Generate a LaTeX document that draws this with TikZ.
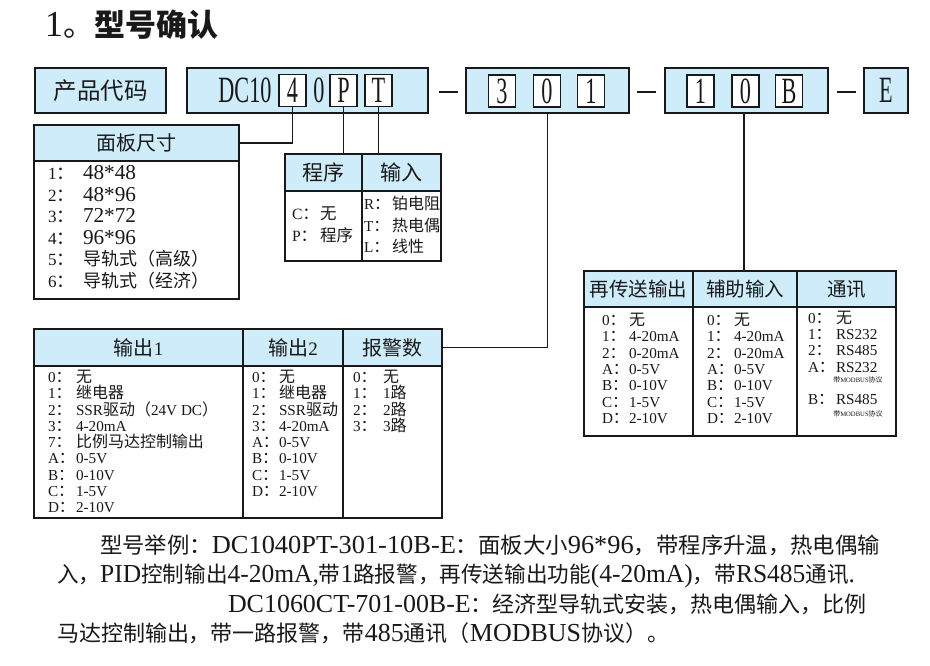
\documentclass[tikz,border=0pt]{standalone}
\usepackage{fontspec}
\usepackage{graphicx}
\setmainfont{Noto Sans CJK SC}
\newfontfamily\latf{Liberation Serif}[Scale=0.95]
\newfontfamily\latb{Liberation Serif}[Scale=1.18]
\definecolor{hdr}{RGB}{206,236,250}
\definecolor{ink}{RGB}{25,25,25}
\newcommand\fz[1]{\fontsize{#1}{#1}\selectfont}
\newcommand\cond[1]{\scalebox{0.6}[1]{\fz{39}\latf #1}}
\begin{document}
\begin{tikzpicture}[x=1pt,y=-1pt,
  every node/.style={inner sep=0pt,outer sep=0pt,text=ink},
  topbox/.style={draw=ink,line width=1.8pt,fill=hdr,minimum height=45pt},
  digbox/.style={draw=ink,line width=1.4pt,fill=white,minimum width=27pt,minimum height=32pt},
  hcell/.style={draw=ink,line width=1.8pt,fill=hdr},
  bcell/.style={draw=ink,line width=1.8pt,fill=white},
  wire/.style={draw=ink,line width=1.4pt},
  key/.style={anchor=base west},
  dashmark/.style={fill=ink,minimum width=19pt,minimum height=1.5pt},
]
\useasboundingbox[fill=white] (0,0) rectangle (930,666);

% title
\node[key] (title) at (45,37) {{\fz{31}\latb 1}{\fz{31}。\bfseries 型号确认}};

% top row
\node[topbox,minimum width=131pt,font=\fz{23.5}] (code) at (100.5,90.5) {产品代码};
\node[topbox,minimum width=241pt] (dc) at (307.5,90.5) {};
\node (dctxt) at (245,90.5) {\cond{DC10}};
\node[digbox] (d4) at (292.5,90.5) {\cond{4}};
\node (d0) at (319,90.5) {\cond{0}};
\node[digbox] (dP) at (343.5,90.5) {\cond{P}};
\node[digbox] (dT) at (378.5,90.5) {\cond{T}};
\node[dashmark] (m1) at (448,92) {};
\node[topbox,minimum width=163pt] (b301) at (547.5,90.5) {};
\node[digbox] (d3) at (502,91) {\cond{3}};
\node[digbox] (d0b) at (547,91) {\cond{0}};
\node[digbox] (d1) at (591,91) {\cond{1}};
\node[dashmark] (m2) at (646.5,92) {};
\node[topbox,minimum width=163pt] (b10B) at (746.5,90.5) {};
\node[digbox] (e1) at (700.5,91) {\cond{1}};
\node[digbox] (e0) at (745.5,91) {\cond{0}};
\node[digbox] (eB) at (789,91) {\cond{B}};
\node[dashmark] (m3) at (846.5,92) {};
\node[topbox,minimum width=44pt] (bE) at (886,90.5) {\cond{E}};

% panel size table
\node[hcell,minimum width=205pt,minimum height=36pt,font=\fz{20}] (panelH) at (136.5,143) {面板尺寸};
\node[bcell,minimum width=205pt,minimum height=138pt] (panelB) at (136.5,230) {};
\foreach \k/\t [count=\i from 0] in {1/{\latb 48*48},2/{\latb 48*96},3/{\latb 72*72},4/{\latb 96*96},5/{导轨式（高级）},6/{导轨式（经济）}}{
  \node[key,font=\fz{18}] (pk\i) at (48,{179.5+21.6*\i}) {{\latf\k}：};
  \node[key,font=\fz{18}] (pt\i) at (83,{179.5+21.6*\i}) {\t};
}

% program / input table
\node[hcell,minimum width=77pt,minimum height=37pt,font=\fz{21}] (progH) at (323.5,172.5) {程序};
\node[hcell,minimum width=79pt,minimum height=37pt,font=\fz{21}] (inH) at (401.5,172.5) {输入};
\node[bcell,minimum width=77pt,minimum height=70pt] (progB) at (323.5,226) {};
\node[bcell,minimum width=79pt,minimum height=70pt] (inB) at (401.5,226) {};
\foreach \k/\t [count=\i from 0] in {C/无,P/程序}{
  \node[key,font=\fz{16.5}] (gk\i) at (292,{220+21*\i}) {{\latf\k}：};
  \node[key,font=\fz{16.5}] (gt\i) at (320,{220+21*\i}) {\t};
}
\foreach \k/\t [count=\i from 0] in {R/铂电阻,T/热电偶,L/线性}{
  \node[key,font=\fz{16}] (ik\i) at (364,{210+21.5*\i}) {{\latf\k}：};
  \node[key,font=\fz{16}] (it\i) at (392,{210+21.5*\i}) {\t};
}

% retransmission / aux input / comm table
\node[hcell,minimum width=109pt,minimum height=36pt,font=\fz{19.5}] (retH) at (638.5,289) {再传送输出};
\node[hcell,minimum width=104pt,minimum height=36pt,font=\fz{19.5}] (auxH) at (745,289) {辅助输入};
\node[hcell,minimum width=99pt,minimum height=36pt,font=\fz{19.5}] (comH) at (846.5,289) {通讯};
\node[bcell,minimum width=109pt,minimum height=129pt] (retB) at (638.5,371.5) {};
\node[bcell,minimum width=104pt,minimum height=129pt] (auxB) at (745,371.5) {};
\node[bcell,minimum width=99pt,minimum height=129pt] (comB) at (846.5,371.5) {};
\foreach \k/\t [count=\i from 0] in {0/无,1/{\latf 4-20mA},2/{\latf 0-20mA},A/{\latf 0-5V},B/{\latf 0-10V},C/{\latf 1-5V},D/{\latf 2-10V}}{
  \node[key,font=\fz{16}] (rk\i) at (602,{325.5+16.3*\i}) {{\latf\k}：};
  \node[key,font=\fz{16}] (rt\i) at (629,{325.5+16.3*\i}) {\t};
  \node[key,font=\fz{16}] (ak\i) at (707,{325.5+16.3*\i}) {{\latf\k}：};
  \node[key,font=\fz{16}] (at\i) at (734,{325.5+16.3*\i}) {\t};
}
\foreach \k/\t/\y [count=\i from 0] in {0/无/318,1/{\latf RS232}/334,2/{\latf RS485}/350,A/{\latf RS232}/367,B/{\latf RS485}/399}{
  \node[key,font=\fz{16}] (ck\i) at (808,{\y+5.5}) {{\latf\k}：};
  \node[key,font=\fz{16}] (ct\i) at (836,{\y+5.5}) {\t};
}
\node[font=\fz{7}] (cn1) at (858,380) {带{\latf MODBUS}协议};
\node[font=\fz{7}] (cn2) at (858,414) {带{\latf MODBUS}协议};

% output / alarm table
\node[hcell,minimum width=209pt,minimum height=37pt,font=\fz{20}] (out1H) at (138.5,347.5) {输出{\latf 1}};
\node[hcell,minimum width=100pt,minimum height=37pt,font=\fz{20}] (out2H) at (293,347.5) {输出{\latf 2}};
\node[hcell,minimum width=99pt,minimum height=37pt,font=\fz{20}] (alarmH) at (392.5,347.5) {报警数};
\node[bcell,minimum width=209pt,minimum height=152pt] (out1B) at (138.5,442) {};
\node[bcell,minimum width=100pt,minimum height=152pt] (out2B) at (293,442) {};
\node[bcell,minimum width=99pt,minimum height=152pt] (alarmB) at (392.5,442) {};
\foreach \k/\t [count=\i from 0] in {0/无,1/继电器,2/{{\latf SSR}驱动（{\latf 24V DC}）},3/{\latf 4-20mA},7/比例马达控制输出,A/{\latf 0-5V},B/{\latf 0-10V},C/{\latf 1-5V},D/{\latf 2-10V}}{
  \node[key,font=\fz{16}] (ok\i) at (48,{382.5+16.25*\i}) {{\latf\k}：};
  \node[key,font=\fz{16}] (ot\i) at (76,{382.5+16.25*\i}) {\t};
}
\foreach \k/\t [count=\i from 0] in {0/无,1/继电器,2/{{\latf SSR}驱动},3/{\latf 4-20mA},A/{\latf 0-5V},B/{\latf 0-10V},C/{\latf 1-5V},D/{\latf 2-10V}}{
  \node[key,font=\fz{16}] (sk\i) at (252,{382.5+16.25*\i}) {{\latf\k}：};
  \node[key,font=\fz{16}] (st\i) at (279,{382.5+16.25*\i}) {\t};
}
\foreach \k/\t [count=\i from 0] in {0/无,1/{{\latf 1}路},2/{{\latf 2}路},3/{{\latf 3}路}}{
  \node[key,font=\fz{16}] (lk\i) at (353,{382.5+16.25*\i}) {{\latf\k}：};
  \node[key,font=\fz{16}] (lt\i) at (383,{382.5+16.25*\i}) {\t};
}

% connectors
\draw[wire] (d4.south) |- (panelH.east);
\draw[wire] (dP.south) -- (dP.south |- progH.north);
\draw[wire] (dT.south) -- (dT.south |- inH.north);
\draw[wire] (b301.south) |- (alarmH.east);
\draw[wire] ([xshift=-2.5pt]b10B.south) -- ([xshift=-2.5pt]b10B.south |- auxH.north);

% example text
\node[key,font=\fz{22}] (ex1) at (100,553.4) {\resizebox{780pt}{\height}{型号举例：{\latb DC1040PT-301-10B-E}：面板大小{\latb 96*96}，带程序升温，热电偶输}};
\node[key,font=\fz{22}] (ex2) at (57,582.7) {\resizebox{798pt}{\height}{入，{\latb PID}控制输出{\latb 4-20mA,}带{\latb 1}路报警，再传送输出功能{\latb (4-20mA)}，带{\latb RS485}通讯{\latb .}}};
\node[key,font=\fz{22}] (ex3) at (228,612) {{\latb DC1060CT-701-00B-E}：经济型导轨式安装，热电偶输入，比例};
\node[key,font=\fz{22}] (ex4) at (57,641.3) {马达控制输出，带一路报警，带{\latb 485}通讯（{\latb MODBUS}协议）。};
\end{tikzpicture}
\end{document}
